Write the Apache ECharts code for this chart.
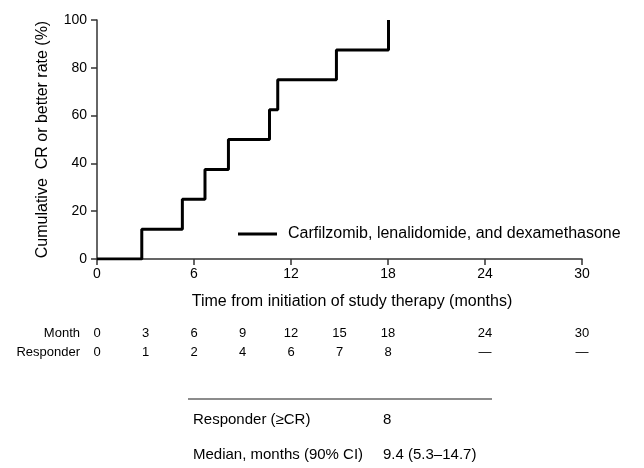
<!DOCTYPE html>
<html><head><meta charset="utf-8">
<script src="https://cdn.jsdelivr.net/npm/echarts@6/dist/echarts.min.js"></script>
<style>html,body{margin:0;padding:0;background:#fff}#c{width:644px;height:468px}</style>
</head><body><div id="c"></div>
<script>
// Step times (months) and cumulative CR-or-better rate (%)
var stepMonths = [0, 2.77, 5.28, 6.68, 8.13, 10.67, 11.18, 14.81, 18.03];
var stepRates  = [0, 12.5, 25, 37.5, 50, 62.5, 75, 87.5, 100];
var seriesName = 'Carfilzomib, lenalidomide, and dexamethasone';
var xTicks = [0, 6, 12, 18, 24, 30];
var yTicks = [0, 20, 40, 60, 80, 100];
// At-risk style table
var tableMonths = [0, 3, 6, 9, 12, 15, 18, 24, 30];
var tableResponders = ['0', '1', '2', '4', '6', '7', '8', '—', '—'];
var summaryLabels = ['Responder (≥CR)', 'Median, months (90% CI)'];
var summaryValues = ['8', '9.4 (5.3–14.7)'];

var FONT = '"Liberation Sans", Arial, sans-serif';
var chart = echarts.init(document.getElementById('c'), null, {renderer: 'canvas'});
var data = stepMonths.map(function (m, i) { return [m, stepRates[i]]; });

chart.setOption({
  animation: false,
  backgroundColor: '#fff',
  grid: {left: 97, right: 62, top: 20, bottom: 209, containLabel: false},
  legend: {
    data: [{name: seriesName, icon: 'rect'}],
    left: 238, top: 226, padding: 0,
    itemWidth: 39, itemHeight: 3,
    textStyle: {fontFamily: FONT, fontSize: 16, color: '#000', padding: [0, 0, 0, 6]}
  },
  xAxis: {
    type: 'value', min: xTicks[0], max: xTicks[xTicks.length - 1], interval: 6,
    name: 'Time from initiation of study therapy (months)',
    nameLocation: 'middle', nameGap: 35,
    nameTextStyle: {fontFamily: FONT, fontSize: 16, color: '#000', padding: [0, 0, 0, 25]},
    axisLine: {lineStyle: {color: '#333', width: 1.5}},
    axisTick: {length: 6, lineStyle: {color: '#333', width: 1.5}},
    axisLabel: {fontFamily: FONT, fontSize: 14, color: '#000', margin: 8},
    splitLine: {show: false}
  },
  yAxis: {
    type: 'value', min: yTicks[0], max: yTicks[yTicks.length - 1], interval: 20,
    name: 'Cumulative  CR or better rate (%)',
    nameLocation: 'middle', nameGap: 46, nameRotate: 90,
    nameTextStyle: {fontFamily: FONT, fontSize: 16, color: '#000'},
    axisLine: {show: true, lineStyle: {color: '#333', width: 1.5}},
    axisTick: {show: true, length: 6, lineStyle: {color: '#333', width: 1.5}},
    axisLabel: {fontFamily: FONT, fontSize: 14, color: '#000', margin: 10},
    splitLine: {show: false}
  },
  series: [{
    name: seriesName, type: 'line', step: 'end', data: data,
    showSymbol: false, symbol: 'none',
    lineStyle: {color: '#000', width: 3},
    itemStyle: {color: '#000'}
  }]
});

var g = [];
g.push({type: 'text', style: {text: 'Month', x: 80, y: 333, align: 'right', verticalAlign: 'middle', font: '13px ' + FONT, fill: '#000'}});
g.push({type: 'text', style: {text: 'Responder', x: 80, y: 352, align: 'right', verticalAlign: 'middle', font: '13px ' + FONT, fill: '#000'}});
tableMonths.forEach(function (m, i) {
  var px = chart.convertToPixel({gridIndex: 0}, [m, 0])[0];
  g.push({type: 'text', style: {text: String(m), x: px, y: 333, align: 'center', verticalAlign: 'middle', font: '13px ' + FONT, fill: '#000'}});
  g.push({type: 'text', style: {text: tableResponders[i], x: px, y: 352, align: 'center', verticalAlign: 'middle', font: '13px ' + FONT, fill: '#000'}});
});
g.push({type: 'line', shape: {x1: 188, y1: 399, x2: 492, y2: 399}, style: {stroke: '#666', lineWidth: 1.5}});
summaryLabels.forEach(function (t, i) {
  var y = i === 0 ? 420 : 455;
  g.push({type: 'text', style: {text: t, x: 193, y: y, align: 'left', verticalAlign: 'middle', font: '15px ' + FONT, fill: '#000'}});
  g.push({type: 'text', style: {text: summaryValues[i], x: 383, y: y, align: 'left', verticalAlign: 'middle', font: '15px ' + FONT, fill: '#000'}});
});
chart.setOption({graphic: g});
</script></body></html>
